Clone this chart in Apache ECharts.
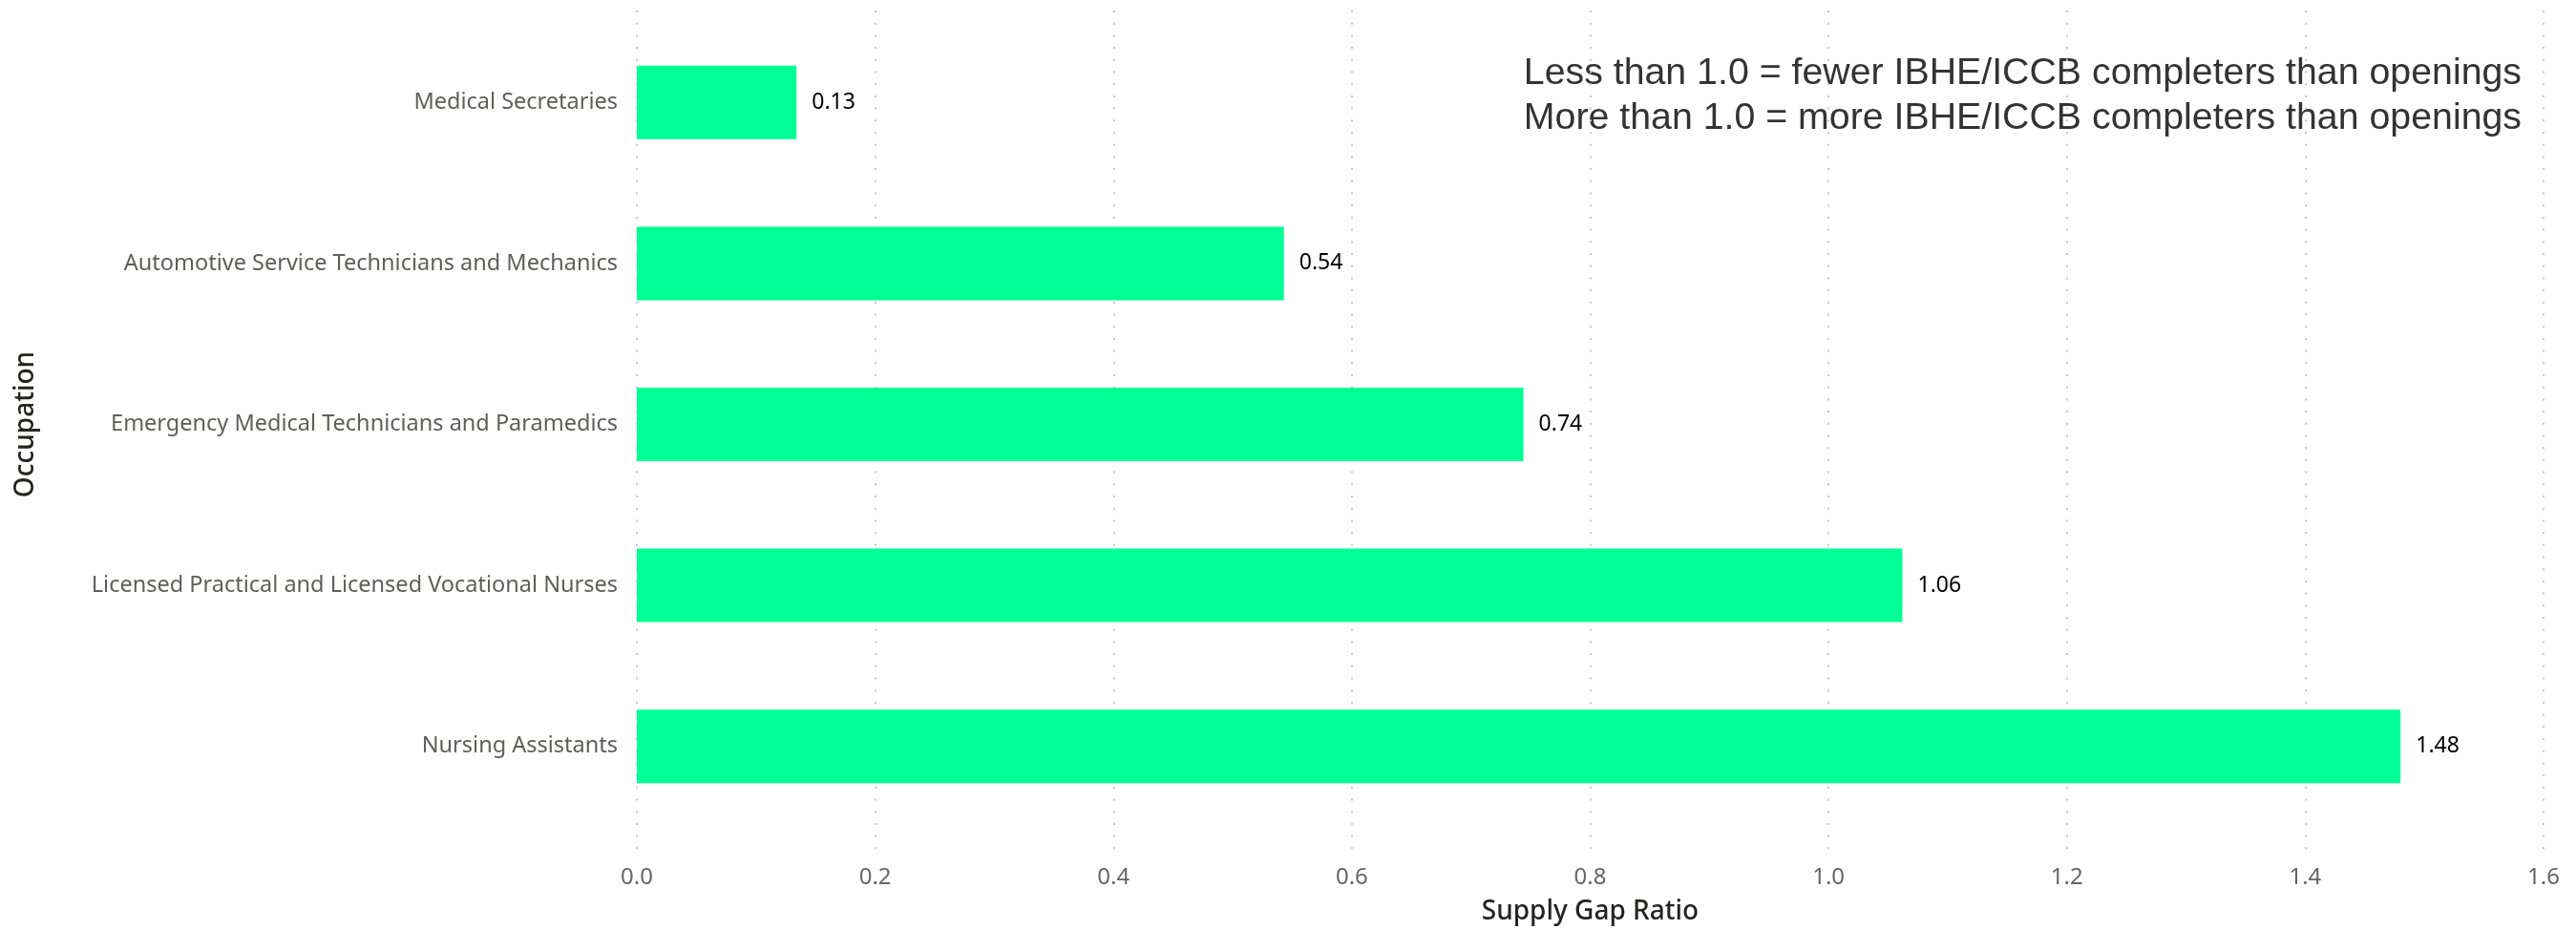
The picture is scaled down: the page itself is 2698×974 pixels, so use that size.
<!DOCTYPE html>
<html>
<head>
<meta charset="utf-8">
<title>Supply Gap Ratio by Occupation</title>
<script src="https://cdn.jsdelivr.net/npm/echarts@6/dist/echarts.min.js"></script>
<style>
  html, body { margin: 0; padding: 0; background: #fff; }
  #chart { width: 2698px; height: 974px; }
</style>
</head>
<body>
<div id="chart"></div>
<script>
// data
const occupations = [
  'Medical Secretaries',
  'Automotive Service Technicians and Mechanics',
  'Emergency Medical Technicians and Paramedics',
  'Licensed Practical and Licensed Vocational Nurses',
  'Nursing Assistants'
]
const gapRatios = [0.134, 0.543, 0.744, 1.062, 1.48]
const ratioMin = 0
const ratioMax = 1.6
const ratioStep = 0.2
const noteLines = [
  'Less than 1.0 = fewer IBHE/ICCB completers than openings',
  'More than 1.0 = more IBHE/ICCB completers than openings'
]

const chart = echarts.init(document.getElementById('chart'))

const labelFont = '"Noto Sans", "Open Sans", sans-serif'
const titleFont = '"Noto Sans", "DejaVu Sans", sans-serif'

chart.setOption({
  animation: false,
  backgroundColor: '#fff',
  grid: [
    // grid 0 only carries the dotted gridlines + x labels
    { left: 667, right: 34, top: 11, bottom: 81 },
    // grid 1 holds the bars
    { left: 667, right: 34, top: 23, bottom: 108 }
  ],
  xAxis: [
    {
      gridIndex: 0,
      type: 'value',
      min: ratioMin,
      max: ratioMax,
      interval: ratioStep,
      axisLine: { show: false },
      axisTick: { show: false },
      axisLabel: {
        color: '#666',
        fontSize: 24,
        fontFamily: labelFont,
        margin: 16,
        formatter: v => v.toFixed(1)
      },
      splitLine: {
        show: true,
        lineStyle: { color: '#c8c8c8', width: 2, type: [2, 10.7] }
      },
      name: 'Supply Gap Ratio',
      nameLocation: 'middle',
      nameGap: 50,
      nameTextStyle: {
        color: '#252423',
        fontSize: 28,
        fontWeight: 500,
        fontFamily: titleFont
      }
    },
    {
      gridIndex: 1,
      type: 'value',
      min: ratioMin,
      max: ratioMax,
      interval: ratioStep,
      show: false
    }
  ],
  yAxis: [
    { gridIndex: 0, type: 'value', show: false },
    {
      gridIndex: 1,
      type: 'category',
      inverse: true,
      data: occupations,
      axisLine: { show: false },
      axisTick: { show: false },
      axisLabel: {
        color: '#605e5c',
        fontSize: 23.5,
        fontFamily: labelFont,
        margin: 20
      },
      name: 'Occupation',
      nameLocation: 'middle',
      nameRotate: 90,
      nameGap: 626,
      nameTextStyle: {
        color: '#252423',
        fontSize: 28,
        fontWeight: 500,
        fontFamily: titleFont
      }
    }
  ],
  graphic: [
    {
      type: 'text',
      x: 2641,
      y: 101,
      style: {
        text: noteLines.join('\n'),
        align: 'right',
        verticalAlign: 'middle',
        lineHeight: 47,
        fill: '#333',
        font: '39.3px "Liberation Sans", Arial, sans-serif'
      }
    }
  ],
  series: [
    {
      type: 'bar',
      xAxisIndex: 1,
      yAxisIndex: 1,
      data: gapRatios,
      barWidth: 77,
      itemStyle: { color: '#00ff94' },
      label: {
        show: true,
        position: 'right',
        distance: 16,
        color: '#000',
        fontSize: 23,
        fontFamily: labelFont,
        formatter: p => p.value.toFixed(2)
      }
    }
  ]
})

window.addEventListener('resize', () => chart.resize())
</script>
</body>
</html>
